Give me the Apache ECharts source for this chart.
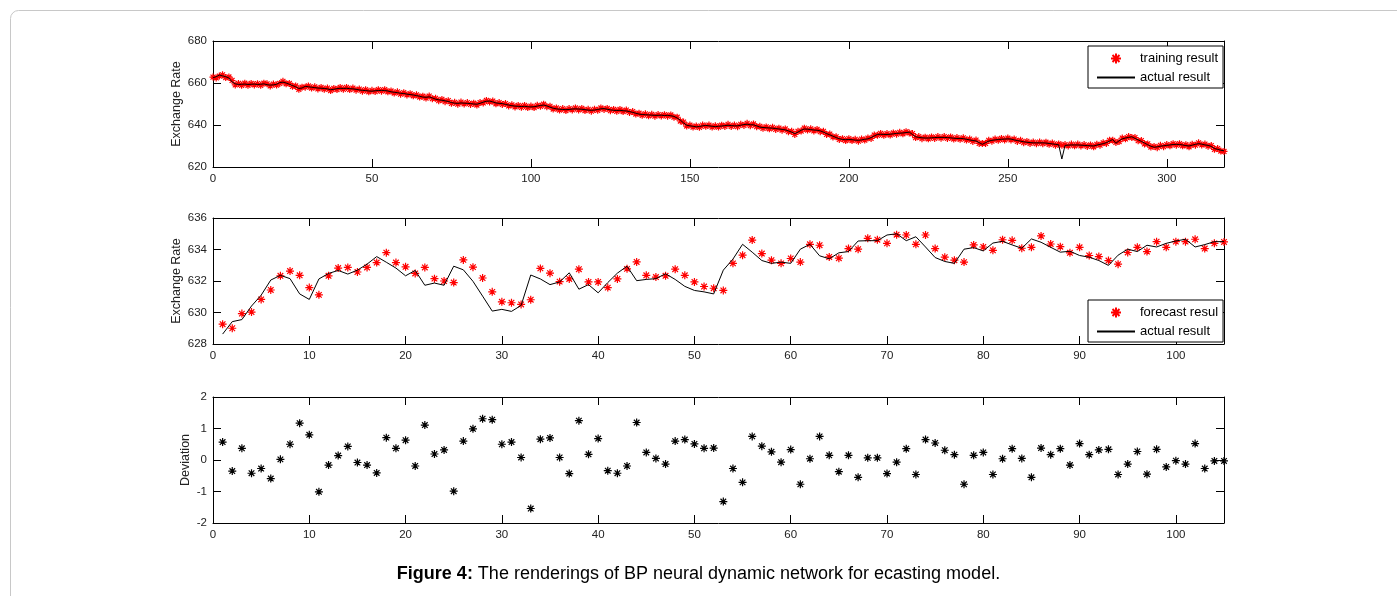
<!DOCTYPE html>
<html>
<head>
<meta charset="utf-8">
<script src="https://cdn.jsdelivr.net/npm/echarts@6/dist/echarts.min.js"></script>
<style>
  html, body { margin: 0; padding: 0; background: #fff; }
  #chart { width: 1397px; height: 596px; }
</style>
</head>
<body>
<div id="chart"></div>
<script>
// Panel 1: training period, x = 0..318
const trainActual = [
  662.5, 663.0, 663.8, 663.4, 663.0, 662.4, 660.5, 659.6, 659.3, 659.4,
  659.5, 659.3, 659.4, 659.5, 659.3, 659.4, 659.6, 659.2, 659.0, 659.1,
  659.4, 660.2, 660.4, 660.0, 659.4, 658.8, 658.2, 657.4, 657.6, 658.4,
  658.2, 658.0, 657.8, 657.6, 657.5, 657.4, 657.2, 656.8, 657.0, 657.3,
  657.5, 657.4, 657.5, 657.3, 657.2, 657.0, 656.7, 656.5, 656.4, 656.2,
  656.1, 656.3, 656.4, 656.5, 656.4, 656.2, 655.8, 655.6, 655.4, 655.1,
  655.0, 654.7, 654.5, 654.3, 654.0, 653.7, 653.3, 653.2, 653.4, 652.9,
  652.3, 652.0, 651.8, 651.5, 651.2, 650.7, 650.4, 650.3, 650.5, 650.4,
  650.3, 650.2, 650.0, 649.9, 650.3, 650.9, 651.3, 651.4, 651.0, 650.5,
  650.3, 650.2, 649.8, 649.5, 649.2, 649.0, 648.9, 648.8, 648.9, 648.7,
  648.6, 648.7, 649.0, 649.3, 649.5, 649.1, 648.5, 648.0, 647.7, 647.5,
  647.4, 647.3, 647.4, 647.6, 647.7, 647.6, 647.5, 647.3, 647.1, 647.0,
  647.1, 647.4, 647.7, 647.8, 647.5, 647.2, 647.0, 646.9, 647.0, 646.8,
  646.7, 646.4, 646.0, 645.6, 645.2, 645.0, 644.9, 644.8, 644.7, 644.6,
  644.6, 644.7, 644.5, 644.6, 644.4, 644.1, 643.3, 642.3, 641.0, 639.9,
  639.6, 639.4, 639.1, 639.3, 639.6, 639.8, 639.6, 639.4, 639.2, 639.4,
  639.5, 639.7, 639.9, 639.7, 639.6, 639.6, 639.9, 640.2, 640.4, 640.1,
  640.1, 639.6, 639.0, 638.8, 638.7, 638.6, 638.5, 638.3, 638.1, 637.9,
  637.7, 637.2, 636.6, 635.9, 636.6, 637.5, 638.1, 638.0, 637.8, 637.6,
  637.5, 637.2, 636.6, 635.9, 635.3, 634.7, 634.0, 633.5, 633.1, 633.0,
  633.1, 633.0, 632.8, 632.7, 632.9, 633.2, 633.4, 634.0, 634.8, 635.5,
  635.6, 635.5, 635.5, 635.6, 635.8, 636.0, 636.1, 636.2, 636.4, 636.6,
  635.5, 634.4, 634.1, 633.9, 633.8, 633.8, 633.9, 634.0, 634.1, 634.1,
  634.1, 634.0, 633.9, 633.7, 633.6, 633.6, 633.5, 633.2, 632.9, 632.6,
  632.4, 631.6, 630.8, 631.6, 632.3, 632.7, 632.9, 633.1, 633.2, 633.3,
  633.4, 633.3, 632.9, 632.6, 632.3, 632.0, 631.8, 631.6, 631.5, 631.5,
  631.5, 631.5, 631.4, 631.2, 631.0, 630.8, 630.6, 623.8, 630.3, 630.4,
  630.5, 630.5, 630.5, 630.4, 630.3, 630.2, 630.1, 630.0, 630.4, 630.8,
  631.1, 631.6, 632.3, 633.1, 631.3, 632.5, 633.4, 633.8, 634.1, 634.4,
  633.6, 632.9, 632.2, 631.4, 630.6, 629.9, 629.4, 629.6, 629.9, 630.1,
  630.3, 630.5, 630.7, 630.8, 630.7, 630.5, 630.2, 630.0, 630.4, 630.8,
  631.1, 630.9, 630.5, 630.3, 629.8, 628.8, 628.4, 628.0, 627.7
];
const trainResult = [
  662.8, 662.4, 663.3, 663.9, 662.6, 662.9, 661.2, 659.1, 659.8, 658.9,
  659.9, 658.9, 659.8, 659.1, 659.7, 658.9, 659.9, 659.6, 658.6, 659.5,
  659.0, 659.8, 660.8, 659.6, 659.8, 658.4, 658.6, 657.0, 658.0, 658.0,
  658.6, 657.6, 658.2, 657.2, 657.9, 657.0, 657.6, 656.4, 657.4, 656.9,
  657.9, 657.0, 657.9, 656.9, 657.6, 656.6, 657.1, 656.1, 656.8, 655.8,
  656.5, 655.9, 656.8, 656.1, 656.8, 655.8, 656.2, 655.2, 655.8, 654.7,
  655.4, 654.3, 654.9, 653.9, 654.4, 653.3, 653.7, 652.8, 653.8, 652.5,
  652.7, 651.6, 652.2, 651.1, 651.6, 650.3, 650.8, 649.9, 650.9, 650.0,
  650.7, 649.8, 650.4, 649.5, 650.7, 650.5, 651.7, 651.0, 651.4, 650.1,
  650.7, 649.8, 650.2, 649.1, 649.6, 648.6, 649.3, 648.4, 649.3, 648.3,
  649.0, 648.3, 649.4, 648.9, 649.9, 648.7, 648.9, 647.6, 648.1, 647.1,
  647.8, 646.9, 647.8, 647.2, 648.1, 647.2, 647.9, 646.9, 647.5, 646.6,
  647.5, 647.0, 648.1, 647.4, 647.9, 646.8, 647.4, 646.5, 647.4, 646.4,
  647.1, 646.0, 646.4, 645.2, 645.6, 644.6, 645.3, 644.4, 645.1, 644.2,
  645.0, 644.3, 644.9, 644.2, 644.8, 643.7, 643.7, 641.9, 641.4, 639.5,
  640.0, 639.0, 639.5, 638.9, 640.0, 639.4, 640.0, 639.0, 639.6, 639.0,
  639.9, 639.3, 640.3, 639.3, 640.0, 639.2, 640.3, 639.8, 640.8, 639.7,
  640.5, 639.2, 639.4, 638.4, 639.1, 638.2, 638.9, 637.9, 638.5, 637.5,
  638.1, 636.8, 637.0, 635.5, 637.0, 637.1, 638.5, 637.6, 638.2, 637.2,
  637.9, 636.8, 637.0, 635.5, 635.7, 634.3, 634.4, 633.1, 633.5, 632.6,
  633.5, 632.6, 633.2, 632.3, 633.3, 632.8, 633.8, 633.6, 635.2, 635.1,
  636.0, 635.1, 635.9, 635.2, 636.2, 635.6, 636.5, 635.8, 636.8, 636.2,
  635.9, 634.0, 634.5, 633.5, 634.2, 633.4, 634.3, 633.6, 634.5, 633.7,
  634.5, 633.6, 634.3, 633.3, 634.0, 633.2, 633.9, 632.8, 633.3, 632.2,
  632.8, 631.2, 631.2, 631.2, 632.7, 632.3, 633.3, 632.7, 633.6, 632.9,
  633.8, 632.9, 633.3, 632.2, 632.7, 631.6, 632.2, 631.2, 631.9, 631.1,
  631.9, 631.1, 631.8, 630.8, 631.4, 630.4, 631.0, 630.3, 630.7, 630.0,
  630.9, 630.1, 630.9, 630.0, 630.7, 629.8, 630.5, 629.6, 630.8, 630.4,
  631.5, 631.2, 632.7, 632.7, 631.7, 632.1, 633.8, 633.4, 634.5, 634.0,
  634.0, 632.5, 632.6, 631.0, 631.0, 629.5, 629.8, 629.2, 630.3, 629.7,
  630.7, 630.1, 631.1, 630.4, 631.1, 630.1, 630.6, 629.6, 630.8, 630.4,
  631.5, 630.5, 630.9, 629.9, 630.2, 628.4, 628.8, 627.6, 627.4
];

// Panel 2: forecast period, x = 1..105
const forecastResult = [
  629.26, 629.00, 629.93, 630.03, 630.83, 631.43, 632.33, 632.63, 632.36, 631.58,
  631.12, 632.33, 632.82, 632.86, 632.57, 632.86, 633.17, 633.80, 633.17, 632.90,
  632.48, 632.86, 632.15, 632.00, 631.90, 633.34, 632.88, 632.19, 631.31, 630.68,
  630.62, 630.51, 630.81, 632.80, 632.50, 631.96, 632.13, 632.75, 631.94, 631.94,
  631.58, 632.13, 632.77, 633.21, 632.36, 632.25, 632.33, 632.75, 632.36, 631.94,
  631.65, 631.54, 631.40, 633.12, 633.64, 634.60, 633.74, 633.32, 633.12, 633.43,
  633.20, 634.33, 634.27, 633.53, 633.45, 634.06, 634.02, 634.71, 634.62, 634.39,
  634.94, 634.92, 634.33, 634.92, 634.06, 633.51, 633.32, 633.20, 634.29, 634.16,
  633.95, 634.62, 634.58, 634.08, 634.14, 634.86, 634.35, 634.18, 633.79, 634.14,
  633.62, 633.55, 633.30, 633.07, 633.81, 634.14, 633.87, 634.50, 634.14, 634.50,
  634.50, 634.65, 634.06, 634.39, 634.48
];
const forecastActual = [
  628.63, 629.42, 629.55, 630.41, 631.10, 632.06, 632.36, 632.15, 631.18, 630.83,
  632.13, 632.48, 632.67, 632.44, 632.69, 633.07, 633.55, 633.19, 632.82, 632.33,
  632.67, 631.73, 631.87, 631.73, 632.94, 632.71, 631.98, 631.04, 630.09, 630.20,
  630.07, 630.45, 632.38, 632.13, 631.77, 631.94, 632.52, 631.48, 631.77, 631.25,
  631.90, 632.50, 632.94, 632.02, 632.10, 632.15, 632.46, 632.10, 631.66, 631.40,
  631.31, 631.18, 632.69, 633.39, 634.33, 633.83, 633.30, 633.12, 633.20, 633.12,
  634.02, 634.33, 633.60, 633.41, 633.79, 633.87, 634.54, 634.56, 634.56, 634.92,
  635.00, 634.56, 634.81, 634.16, 633.49, 633.24, 633.12, 634.02, 634.12, 633.91,
  634.41, 634.52, 634.29, 634.08, 634.67, 634.46, 634.14, 633.83, 633.89, 633.62,
  633.51, 633.30, 632.99, 633.64, 634.02, 633.87, 634.27, 634.16, 634.39, 634.54,
  634.65, 634.16, 634.31, 634.50, 634.50
];

// Panel 3: deviation, x = 1..105
const deviation = [
  0.57, -0.35, 0.37, -0.42, -0.27, -0.59, 0.02, 0.50, 1.17, 0.80,
  -1.01, -0.16, 0.14, 0.43, -0.08, -0.16, -0.41, 0.71, 0.37, 0.63,
  -0.19, 1.11, 0.19, 0.32, -0.99, 0.60, 0.99, 1.31, 1.28, 0.50,
  0.57, 0.08, -1.54, 0.66, 0.70, 0.08, -0.43, 1.25, 0.18, 0.68,
  -0.34, -0.42, -0.19, 1.19, 0.24, 0.05, -0.13, 0.60, 0.65, 0.51,
  0.37, 0.38, -1.32, -0.27, -0.71, 0.75, 0.44, 0.26, -0.07, 0.33,
  -0.77, 0.04, 0.75, 0.15, -0.37, 0.15, -0.55, 0.07, 0.07, -0.43,
  -0.07, 0.36, -0.46, 0.65, 0.54, 0.31, 0.17, -0.77, 0.15, 0.24,
  -0.46, 0.04, 0.36, 0.05, -0.55, 0.38, 0.17, 0.36, -0.16, 0.52,
  0.17, 0.32, 0.34, -0.46, -0.13, 0.27, -0.45, 0.34, -0.22, -0.02,
  -0.13, 0.52, -0.27, -0.03, -0.03
];

const FONT = '"Liberation Sans", Arial, sans-serif';
const ASTERISK = 'path://M0,5L10,5M5,0L5,10M1.5,1.5L8.5,8.5M8.5,1.5L1.5,8.5';
const GRIDS = [
  { left: 213, top: 41, width: 1011, height: 126 },
  { left: 213, top: 218, width: 1011, height: 126 },
  { left: 213, top: 397, width: 1011, height: 126 }
];

const lineStyle = { color: '#000', width: 1 };
const tickStyle = { show: true, inside: true, length: 8, lineStyle: lineStyle };

// bottom axis with labels + plain top axis for the MATLAB style box
function xAxes(grid, max, interval) {
  const base = {
    type: 'value', gridIndex: grid, min: 0, max: max, interval: interval,
    splitLine: { show: false },
    axisLine: { show: true, onZero: false, lineStyle: lineStyle },
    axisTick: tickStyle
  };
  return [
    Object.assign({}, base, {
      position: 'bottom',
      axisLabel: { show: true, showMaxLabel: false, color: '#222', fontSize: 11.5, fontFamily: FONT, margin: 6 }
    }),
    Object.assign({}, base, { position: 'top', axisLabel: { show: false } })
  ];
}

function yAxes(grid, min, max, interval, name, gap) {
  const base = {
    type: 'value', gridIndex: grid, min: min, max: max, interval: interval,
    splitLine: { show: false },
    axisLine: { show: true, onZero: false, lineStyle: lineStyle },
    axisTick: tickStyle
  };
  return [
    Object.assign({}, base, {
      position: 'left',
      name: name, nameLocation: 'middle', nameGap: gap, nameMoveOverlap: false,
      nameTextStyle: { color: '#222', fontSize: 12.5, fontFamily: FONT },
      axisLabel: { show: true, color: '#222', fontSize: 11.5, fontFamily: FONT, margin: 6 }
    }),
    Object.assign({}, base, { position: 'right', axisLabel: { show: false } })
  ];
}

function stars(name, data, xi, yi, color, size) {
  return {
    type: 'scatter', name: name, xAxisIndex: xi, yAxisIndex: yi,
    symbol: ASTERISK, symbolSize: size,
    itemStyle: { color: 'none', borderColor: color, borderWidth: 1.2, opacity: 1 },
    emphasis: { disabled: true },
    data: data
  };
}

function line(name, data, xi, yi) {
  return {
    type: 'line', name: name, xAxisIndex: xi, yAxisIndex: yi,
    symbol: 'circle', showSymbol: false,
    lineStyle: { color: '#000', width: 1 },
    itemStyle: { color: 'rgba(0,0,0,0)', borderWidth: 0 },
    emphasis: { disabled: true }, animation: false,
    data: data
  };
}

const lineLegendItem = {
  name: 'actual result',
  itemStyle: { color: 'rgba(0,0,0,0)', borderColor: 'rgba(0,0,0,0)', borderWidth: 0 }
};

const legendBase = {
  orient: 'vertical', left: 1088, padding: [5, 5, 4, 8], itemGap: 5,
  itemWidth: 38, itemHeight: 10,
  backgroundColor: '#fff', borderColor: '#000', borderWidth: 1, borderRadius: 0,
  textStyle: { color: '#000', fontSize: 13, fontFamily: FONT }
};

const option = {
  animation: false,
  backgroundColor: '#fff',
  grid: GRIDS,
  xAxis: [].concat(xAxes(0, 318, 50), xAxes(1, 105, 10), xAxes(2, 105, 10)),
  yAxis: [].concat(
    yAxes(0, 620, 680, 20, 'Exchange Rate', 30),
    yAxes(1, 628, 636, 2, 'Exchange Rate', 30),
    yAxes(2, -2, 2, 1, 'Deviation', 21)
  ),
  legend: [
    Object.assign({}, legendBase, { top: 46, data: ['training result', lineLegendItem] }),
    Object.assign({}, legendBase, { top: 300, data: ['forecast resul', lineLegendItem] })
  ],
  series: [
    stars('training result', trainResult.map((v, i) => [i, v]), 0, 0, '#ff0000', 7),
    line('actual result', trainActual.map((v, i) => [i, v]), 0, 0),
    stars('forecast resul', forecastResult.map((v, i) => [i + 1, v]), 2, 2, '#ff0000', 8),
    line('actual result', forecastActual.map((v, i) => [i + 1, v]), 2, 2),
    stars('deviation', deviation.map((v, i) => [i + 1, v]), 4, 4, '#000', 8)
  ],
  graphic: [
    {
      type: 'rect', silent: true, z: -10,
      shape: { x: 10.5, y: 10.5, width: 1420, height: 620, r: 8 },
      style: { fill: 'none', stroke: '#c8c8c8', lineWidth: 1 }
    },
    {
      type: 'text', left: 'center', top: 565,
      style: {
        text: '{b|Figure 4:} The renderings of BP neural dynamic network for ecasting model.',
        fill: '#000', font: '18px ' + FONT,
        rich: { b: { fontWeight: 'bold', fontSize: 18, fontFamily: FONT, fill: '#000' } }
      }
    }
  ]
};

const chart = echarts.init(document.getElementById('chart'), null, { renderer: 'canvas' });
chart.setOption(option);
</script>
</body>
</html>
